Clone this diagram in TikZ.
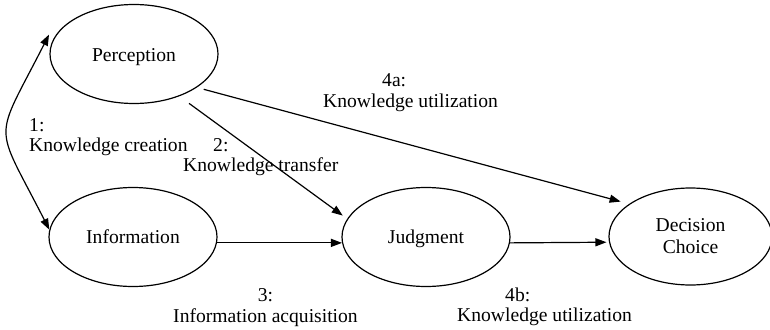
\documentclass[tikz,border=0pt]{standalone}
\usepackage{fontspec}
\setmainfont{Liberation Serif}
\usetikzlibrary{arrows.meta,shapes.geometric}
\begin{document}
\begin{tikzpicture}[x=1pt,y=-1pt,
  every node/.style={font=\fontsize{19.6pt}{20.5pt}\selectfont},
  stage/.style={ellipse,draw,line width=1.2pt,inner sep=0pt,
    minimum width=168pt,minimum height=99pt},
  tip/.tip={Triangle[length=11pt,width=8pt]},
  flow/.style={line width=1.2pt,-tip},
  lbl/.style={align=left,anchor=base west,inner sep=0pt}
]
\useasboundingbox (0,0) rectangle (770,329);

% stages of the model
\node[stage,text height=15pt,text depth=0pt] (perc) at (134,54) {Perception};
\node[stage,text height=14pt,text depth=1.5pt] (info) at (133,237) {Information};
\node[stage,text height=14pt,text depth=1.5pt] (judg) at (426,237) {Judgment};
\node[stage,minimum width=163pt,minimum height=97pt,align=center,
  font=\fontsize{19.6pt}{22pt}\selectfont] (dec) at (690.5,236.5) {Decision\\Choice};

% links between stages
\draw[line width=1.2pt,tip-tip] ([xshift=-7pt]perc.166)
  .. controls +(-56,110) and +(-56,-110) .. (info.175);
\draw[flow,shorten <=12pt,shorten >=5.5pt] (perc.-43) -- (judg.167);
\draw[flow,shorten <=7pt,shorten >=8.8pt] (perc.-28.6) -- (dec.152);
\draw[flow] (info.-4.1) -- (judg.184.1);
\draw[flow,shorten >=2.5pt] (judg.-4.1) -- (dec.184.5);

% link labels (placed by the baseline of their last line)
\node[lbl] (l1) at (29,151.5) {1:\\Knowledge creation};
\node[lbl] (l2) at (183,171.5) {\hspace*{30pt}2:\\Knowledge transfer};
\node[lbl] (l4a) at (323,107) {\hspace*{59pt}4a:\\Knowledge utilization};
\node[lbl,align=center,anchor=base] (l3) at (265.5,322) {3:\\Information acquisition};
\node[lbl] (l4b) at (457,321.5) {\hspace*{48pt}4b:\\Knowledge utilization};
\end{tikzpicture}
\end{document}
